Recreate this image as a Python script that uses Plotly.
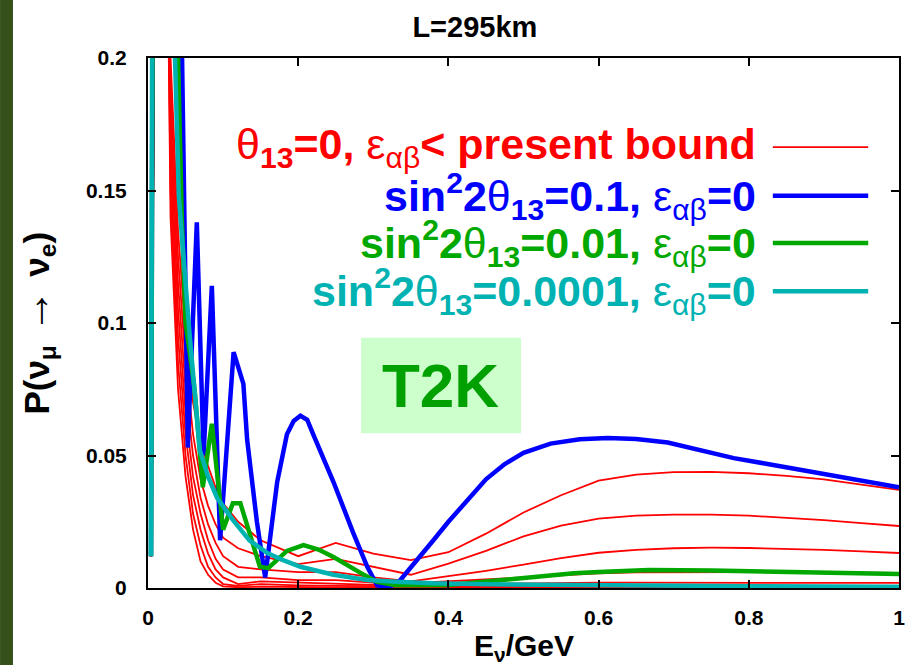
import plotly.graph_objects as go

# ---- data (E in GeV, probability) ----
red_x = [0.004, 0.012, 0.02, 0.03, 0.04, 0.05, 0.06, 0.07, 0.08, 0.09, 0.1, 0.12,
         0.15, 0.2, 0.25, 0.3, 0.35, 0.4, 0.45, 0.5, 0.55, 0.6, 0.65, 0.7, 0.75,
         0.8, 0.85, 0.9, 0.95, 1.0]
red_a = [0.012, 0.4, 0.4, 0.2, 0.135, 0.095, 0.07, 0.055, 0.046, 0.038, 0.032, 0.025,
         0.018, 0.012, 0.017, 0.013, 0.0105, 0.0135, 0.0205, 0.0285, 0.035, 0.0405, 0.0428,
         0.0437, 0.0438, 0.0433, 0.0423, 0.041, 0.039, 0.037]
red_b = [0.012, 0.4, 0.4, 0.19, 0.125, 0.085, 0.058, 0.041, 0.031, 0.024, 0.019, 0.015,
         0.012, 0.009, 0.011, 0.008, 0.005, 0.0092, 0.014, 0.0195, 0.0235, 0.0262, 0.0273,
         0.0277, 0.0277, 0.0273, 0.0265, 0.0256, 0.0245, 0.0234]
red_c = [0.012, 0.4, 0.4, 0.18, 0.115, 0.075, 0.05, 0.034, 0.024, 0.017, 0.012, 0.008,
         0.007, 0.006, 0.006, 0.004, 0.0025, 0.0045, 0.0065, 0.0088, 0.0113, 0.0133, 0.0144,
         0.015, 0.0152, 0.0151, 0.0148, 0.0144, 0.0138, 0.0132]
red_d = [0.012, 0.4, 0.4, 0.17, 0.105, 0.066, 0.042, 0.028, 0.018, 0.011, 0.007, 0.004,
         0.004, 0.003, 0.003, 0.002, 0.0018, 0.0025, 0.0032, 0.0039, 0.0048, 0.0055, 0.0059,
         0.006, 0.006, 0.006, 0.006, 0.0059, 0.0058, 0.0057]
red_e = [0.012, 0.4, 0.4, 0.16, 0.095, 0.058, 0.035, 0.022, 0.013, 0.007, 0.004, 0.0015,
         0.0025, 0.002, 0.0015, 0.0012, 0.0012, 0.0014, 0.0015, 0.0017, 0.0018, 0.002, 0.002,
         0.002, 0.002, 0.002, 0.002, 0.002, 0.0019, 0.0019]
red_f = [0.012, 0.4, 0.4, 0.15, 0.085, 0.05, 0.028, 0.016, 0.008, 0.004, 0.0015, 0.0008,
         0.0015, 0.001, 0.0008, 0.0006, 0.0006, 0.0007, 0.0007, 0.0007, 0.0007, 0.0007, 0.0007,
         0.0007, 0.0007, 0.0007, 0.0007, 0.0007, 0.0007, 0.0007]
red_g = [0.012, 0.4, 0.4, 0.14, 0.075, 0.042, 0.022, 0.01, 0.005, 0.002, 0.0006, 0.0003,
         0.0005, 0.0003, 0.0002, 0.0002, 0.0002, 0.0002, 0.0002, 0.0002, 0.0002, 0.0002, 0.0002,
         0.0002, 0.0002, 0.0002, 0.0002, 0.0002, 0.0002, 0.0002]
red_curves = [red_a, red_b, red_c, red_d, red_e, red_f, red_g]

blue_x = [0.004, 0.008, 0.035, 0.053, 0.065, 0.074, 0.085, 0.096, 0.114, 0.127, 0.132,
          0.145, 0.156, 0.172, 0.185, 0.194, 0.203, 0.212, 0.22, 0.247, 0.273, 0.292,
          0.305, 0.32, 0.336, 0.36, 0.38, 0.4, 0.425, 0.45, 0.475, 0.5, 0.536, 0.575,
          0.612, 0.65, 0.692, 0.735, 0.78, 0.825, 0.869, 0.935, 1.0]
blue_y = [0.012, 0.4, 0.4, 0.053, 0.138, 0.05, 0.114, 0.018, 0.089, 0.077, 0.056,
          0.025, 0.004, 0.04, 0.058, 0.063, 0.065, 0.0635, 0.058, 0.04, 0.021, 0.008,
          0.001, 0.0, 0.003, 0.011, 0.018, 0.025, 0.033, 0.041, 0.0468, 0.051, 0.0545, 0.0561,
          0.0566, 0.0562, 0.0549, 0.052, 0.049, 0.0468, 0.0445, 0.0412, 0.038]

green_x = [0.004, 0.008, 0.035, 0.04, 0.045, 0.05, 0.055, 0.062, 0.073, 0.085, 0.1,
           0.113, 0.123, 0.149, 0.16, 0.185, 0.207, 0.227, 0.247, 0.265, 0.283, 0.305,
           0.33, 0.4, 0.433, 0.467, 0.5, 0.533, 0.567, 0.6, 0.633, 0.667, 0.75, 0.85, 1.0]
green_y = [0.012, 0.4, 0.4, 0.2, 0.14, 0.1, 0.09, 0.075, 0.038, 0.062, 0.022,
           0.032, 0.032, 0.008, 0.0075, 0.014, 0.0162, 0.0145, 0.0117, 0.0085, 0.0057, 0.0023,
           0.001, 0.0011, 0.002, 0.003, 0.004, 0.005, 0.0056, 0.006, 0.0065, 0.0068, 0.0066,
           0.006, 0.0053]

cyan_x = [0.004, 0.007, 0.03, 0.036, 0.041, 0.055, 0.069, 0.08, 0.092, 0.113, 0.135,
          0.159, 0.18, 0.203, 0.247, 0.292, 0.33, 0.38, 0.45, 0.6, 0.8, 1.0]
cyan_y = [0.012, 0.4, 0.4, 0.2, 0.148, 0.097, 0.052, 0.042, 0.034, 0.0257, 0.018,
          0.0132, 0.0105, 0.008, 0.005, 0.003, 0.0024, 0.0018, 0.0014, 0.001, 0.0007, 0.0005]

x_ticks = [0, 0.2, 0.4, 0.6, 0.8, 1]
x_labels = ["0", "0.2", "0.4", "0.6", "0.8", "1"]
y_ticks = [0, 0.05, 0.1, 0.15, 0.2]
y_labels = ["0", "0.05", "0.1", "0.15", "0.2"]

legend_texts = [
    "θ<b><sub>13</sub>=0, </b>ε<sub>αβ</sub><b>&lt; present bound</b>",
    "<b>sin<sup>2</sup>2</b>θ<b><sub>13</sub>=0.1, </b>ε<sub>αβ</sub><b>=0</b>",
    "<b>sin<sup>2</sup>2</b>θ<b><sub>13</sub>=0.01, </b>ε<sub>αβ</sub><b>=0</b>",
    "<b>sin<sup>2</sup>2</b>θ<b><sub>13</sub>=0.0001, </b>ε<sub>αβ</sub><b>=0</b>",
]

RED = "#FF0000"
BLUE = "#0000FF"
GREEN = "#00A800"
CYAN = "#00B2B2"
legend_colors = [RED, BLUE, GREEN, CYAN]
legend_widths = [1.8, 4.5, 4.5, 4.5]

FONT = "Liberation Sans, Arial, sans-serif"

fig = go.Figure()

for ys in red_curves:
    fig.add_trace(go.Scatter(x=red_x, y=ys, mode="lines",
                             line=dict(color=RED, width=1.8), showlegend=False))
fig.add_trace(go.Scatter(x=blue_x, y=blue_y, mode="lines",
                         line=dict(color=BLUE, width=4.5), showlegend=False))
fig.add_trace(go.Scatter(x=green_x, y=green_y, mode="lines",
                         line=dict(color=GREEN, width=4.5), showlegend=False))
fig.add_trace(go.Scatter(x=cyan_x, y=cyan_y, mode="lines",
                         line=dict(color=CYAN, width=4.5), showlegend=False))

# hand-made legend: text right aligned, sample line to its right
rows_y = [0.832, 0.740, 0.651, 0.560]
for txt, col, w, ry in zip(legend_texts, legend_colors, legend_widths, rows_y):
    fig.add_annotation(x=0.812, y=ry, xref="paper", yref="paper", text=txt,
                       showarrow=False, xanchor="right", yanchor="middle",
                       font=dict(family=FONT, size=43, color=col))
    fig.add_shape(type="line", xref="paper", yref="paper",
                  x0=0.832, x1=0.959, y0=ry, y1=ry, line=dict(color=col, width=w))

# T2K label box
fig.add_shape(type="rect", xref="paper", yref="paper", x0=0.2836, x1=0.4967,
              y0=0.292, y1=0.472, fillcolor="#CCFFCC", line=dict(width=0), layer="below")
fig.add_annotation(x=0.39, y=0.382, xref="paper", yref="paper", text="<b>T2K</b>",
                   showarrow=False, font=dict(family=FONT, size=62, color="#00A000"))

# dark strip on the left edge of the slide
fig.add_shape(type="rect", xref="paper", yref="paper", x0=-0.197, x1=-0.1798,
              y0=-0.2, y1=1.2, fillcolor="#36501A", line=dict(width=0))

# axis titles
fig.add_annotation(x=-0.151, y=0.5, xref="paper", yref="paper", textangle=-90,
                   xanchor="center", yanchor="middle",
                   text="<b>P(ν<sub>μ</sub></b><span style='font-size:44px'> → </span><b>ν<sub>e</sub>)</b>",
                   showarrow=False,
                   font=dict(family=FONT, size=35, color="black"))
fig.add_annotation(x=0.5, y=-0.112, xref="paper", yref="paper",
                   xanchor="center", yanchor="middle",
                   text="<b>E<sub>ν</sub>/GeV</b>", showarrow=False,
                   font=dict(family=FONT, size=30, color="black"))

fig.update_layout(
    width=908, height=665,
    margin=dict(l=148, r=9, t=58, b=77, autoexpand=False),
    paper_bgcolor="white", plot_bgcolor="white",
    title=dict(text="<b>L=295km</b>", x=0.523, xanchor="center", y=0.96, yanchor="middle",
               font=dict(family=FONT, size=29, color="black")),
    font=dict(family=FONT, color="black"),
    showlegend=False,
)
fig.update_xaxes(range=[0, 1], tickvals=x_ticks, ticktext=x_labels, automargin=False,
                 showgrid=False, zeroline=False, showline=True, linecolor="black",
                 linewidth=2, mirror="ticks", ticks="inside", ticklen=8, tickwidth=1.5,
                 tickcolor="black", ticklabelstandoff=10,
                 tickfont=dict(family=FONT, size=21, color="black", weight="bold"))
fig.update_yaxes(range=[0, 0.2], tickvals=y_ticks, ticktext=y_labels, automargin=False,
                 showgrid=False, zeroline=False, showline=True, linecolor="black",
                 linewidth=2, mirror="ticks", ticks="inside", ticklen=8, tickwidth=1.5,
                 tickcolor="black", ticklabelstandoff=15,
                 tickfont=dict(family=FONT, size=21, color="black", weight="bold"))

# page body has a default 8px margin; drop it so the figure fills the window
fig.write_html("out.html", config={"displayModeBar": False},
               post_script="document.body.style.margin='0';")
